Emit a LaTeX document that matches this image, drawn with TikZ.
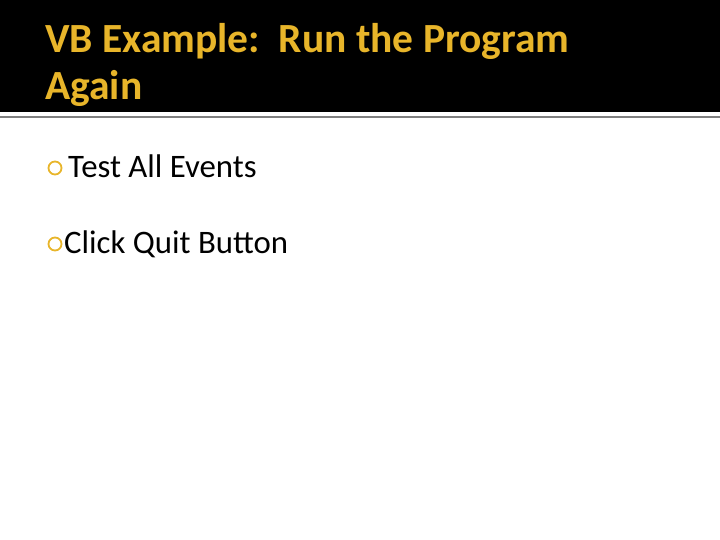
\documentclass[tikz,border=0pt]{standalone}
\usepackage{fontspec}
\setmainfont{Carlito}
\definecolor{gold}{HTML}{E8B52A}
\begin{document}
\begin{tikzpicture}[x=1pt,y=-1pt,
  title/.style={anchor=base west,text=gold,font=\fontsize{41.5}{48}\selectfont\bfseries,inner sep=0},
  body/.style={anchor=base west,text=black,font=\fontsize{32.8}{38}\selectfont,inner sep=0},
  ring/.style={draw=gold,line width=1.8pt}]
\useasboundingbox (0,0) rectangle (720,540);
\fill[black] (0,0) rectangle (720,112);
\draw[gray,line width=1.5pt] (0,117) -- (720,117);
\node[title] (t1) at (45,53) {VB Example:\ \ Run the Program};
\node[title] (t2) at (45,100) {Again};
\draw[ring] (55,168) circle (6.5);
\node[body] (b1) at (68,178) {Test All Events};
\draw[ring] (55,244) circle (6.5);
\node[body] (b2) at (64,254) {Click Quit Button};
\end{tikzpicture}
\end{document}
